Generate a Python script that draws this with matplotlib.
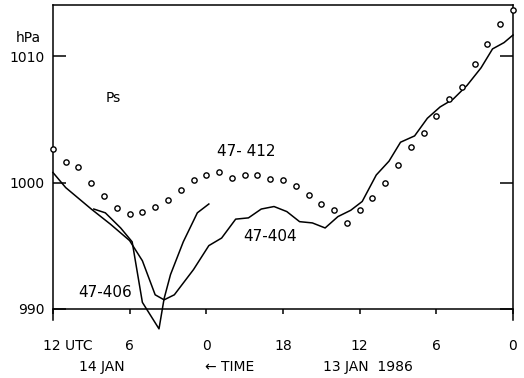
import matplotlib
matplotlib.use("Agg")
import matplotlib.pyplot as plt
import matplotlib.transforms as mtransforms

# hours from left edge (12 UTC 14 JAN), time runs backwards to the right
tick_pos = [0, 6, 12, 18, 24, 30, 36]
tick_labels = ["12 UTC", "6", "0", "18", "12", "6", "0"]

# 47-412 (circles), hourly
h412 = list(range(37))
p412 = [1002.7, 1001.6, 1001.2, 1000.0, 998.9, 998.0, 997.5, 997.7, 998.1, 998.6,
        999.4, 1000.2, 1000.6, 1000.8, 1000.4, 1000.6, 1000.6, 1000.3, 1000.2, 999.7,
        999.0, 998.3, 997.8, 996.8, 997.8, 998.8, 1000.0, 1001.4, 1002.8, 1003.9,
        1005.3, 1006.6, 1007.6, 1009.4, 1011.0, 1012.6, 1013.7]

# 47-404 (solid)
h404 = [0, 1, 3, 4.5, 6, 7, 8, 8.7, 9.5, 11, 12.2, 13.2, 14.3, 15.3, 16.3, 17.3, 18.3,
        19.3, 20.3, 21.3, 22.3, 23.3, 24.2, 25.3, 26.3, 27.2, 28.3, 29.3, 30.3, 31.3,
        32.4, 33.5, 34.4, 35.3, 36]
p404 = [1000.8, 999.6, 997.9, 996.7, 995.4, 993.8, 991.1, 990.7, 991.1, 993.1, 995.0,
        995.6, 997.1, 997.2, 997.9, 998.1, 997.7, 996.9, 996.8, 996.4, 997.3, 997.8,
        998.5, 1000.6, 1001.7, 1003.2, 1003.7, 1005.1, 1006.0, 1006.6, 1007.7, 1009.1,
        1010.6, 1011.1, 1011.7]

# 47-406 (solid)
h406 = [3.2, 4.1, 5.3, 6.2, 7.0, 8.3, 8.7, 9.2, 10.2, 11.3, 12.2]
p406 = [997.9, 997.6, 996.4, 995.3, 990.5, 988.4, 990.8, 992.7, 995.3, 997.6, 998.3]

fig = plt.figure(figsize=(5.24, 3.78), dpi=100)
ax = fig.add_axes([0.101, 0.1534, 0.878, 0.834])

ax.plot(h404, p404, color="black", lw=1.1, clip_on=False)
ax.plot(h406, p406, color="black", lw=1.1, clip_on=False)
ax.plot(h412, p412, linestyle="none", marker="o", ms=3.8, mfc="white",
        mec="black", mew=1.0, clip_on=False, zorder=5)

ax.set_xlim(0, 36)
ax.set_ylim(989.1, 1014.1)

ax.spines["bottom"].set_position(("data", 990))
for s in ax.spines.values():
    s.set_linewidth(1.1)

ax.set_yticks([990, 1000, 1010])
ax.set_yticklabels(["990", "1000", "1010"], fontsize=10)
ax.tick_params(axis="y", direction="in", length=9.5, width=1.1, right=True,
               pad=6)
ax.set_xticks(tick_pos)
ax.set_xticklabels(tick_labels, fontsize=10)
ax.tick_params(axis="x", direction="out", length=3.5, width=1.1, pad=18)
lab0 = ax.get_xticklabels()[0]
lab0.set_horizontalalignment("left")
lab0.set_transform(lab0.get_transform() +
                   mtransforms.ScaledTranslation(-10 / 100, 0, fig.dpi_scale_trans))

fig.text(28 / 524, 1 - 38 / 378, "hPa", ha="center", va="center", fontsize=10)
ax.text(4.7, 1006.7, "Ps", ha="center", va="center", fontsize=10)
ax.text(15.1, 1002.5, "47- 412", ha="center", va="center", fontsize=11)
ax.text(17.0, 995.7, "47-404", ha="center", va="center", fontsize=11)
ax.text(4.1, 991.3, "47-406", ha="center", va="center", fontsize=11)

fig.text(102 / 524, 1 - 367 / 378, "14 JAN", ha="center", va="center", fontsize=10)
fig.text(230 / 524, 1 - 367 / 378, "\u2190 TIME", ha="center", va="center", fontsize=10)
fig.text(368 / 524, 1 - 367 / 378, "13 JAN  1986", ha="center", va="center", fontsize=10)

fig.savefig("out.png", dpi=100)
